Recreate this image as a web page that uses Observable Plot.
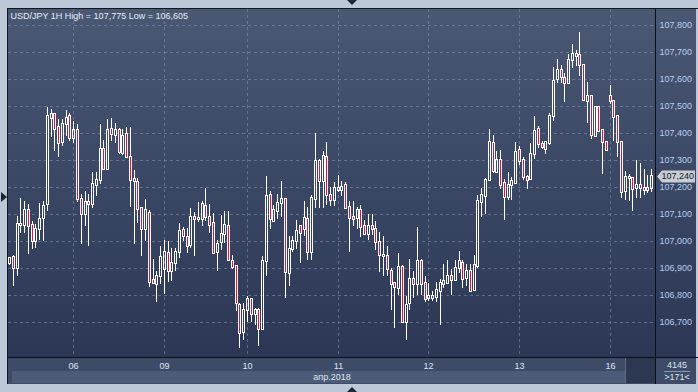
<!DOCTYPE html>
<html>
<head>
<meta charset="utf-8">
<script src="https://cdn.jsdelivr.net/npm/d3@7"></script>
<script src="https://cdn.jsdelivr.net/npm/@observablehq/plot@0.6"></script>
<style>
  html, body { margin: 0; padding: 0; background: #bcc7d7; }
  #wrap { position: relative; width: 698px; height: 392px; overflow: hidden; background: #bcc7d7; font-family: "Liberation Sans", Arial, sans-serif; }
  .abs { position: absolute; }
  #wrap svg { position: absolute; left: 0; top: 0; }
</style>
</head>
<body>
<div id="wrap">
  <div class="abs" style="left:8px;top:9px;width:647px;height:348px;background:linear-gradient(#4a5874,#2b3755);"></div>
  <div class="abs" style="left:656px;top:9px;width:40px;height:348px;background:linear-gradient(#4a5874,#2b3755);"></div>
  <div class="abs" style="left:8px;top:358px;width:647px;height:26px;background:#3e4b67;"></div>
  <div class="abs" style="left:12px;top:371px;width:613px;height:12px;background:#4c5b78;"></div>
  <div class="abs" style="left:625px;top:358px;width:1px;height:25px;background:#5d6b86;"></div>
  <div class="abs" style="left:626px;top:358px;width:29px;height:25px;background:#2c3751;"></div>
  <div class="abs" style="left:656px;top:358px;width:40px;height:26px;background:#3e4b67;"></div>
  <div class="abs" style="left:664px;top:371px;width:26px;height:1px;background:#8a98b0;"></div>
  <div class="abs" style="left:7px;top:8px;width:691px;height:1px;background:#10151e;"></div>
  <div class="abs" style="left:7px;top:8px;width:1px;height:376px;background:#10151e;"></div>
  <div class="abs" style="left:8px;top:357px;width:690px;height:1px;background:#0b0f16;"></div>
  <div class="abs" style="left:655px;top:9px;width:1px;height:375px;background:#0b0f16;"></div>
  <div class="abs" style="left:347px;top:0px;width:0;height:0;border-left:5px solid transparent;border-right:5px solid transparent;border-top:5px solid #1c2532;"></div>
  <div class="abs" style="left:347px;top:387px;width:0;height:0;border-left:5px solid transparent;border-right:5px solid transparent;border-bottom:5px solid #1c2532;"></div>
  <div class="abs" style="left:1px;top:192px;width:0;height:0;border-top:5px solid transparent;border-bottom:5px solid transparent;border-left:6px solid #1c2532;"></div>
</div>
<script>
// Hourly OHLC, USD/JPY, 171 bars
const open = [106.918,106.942,106.901,107.058,107.058,107.115,107.058,107.000,107.043,107.086,
107.138,107.457,107.472,107.422,107.368,107.435,107.463,107.383,107.410,107.157,
107.101,107.146,107.138,107.207,107.225,107.342,107.268,107.414,107.393,107.410,
107.327,107.395,107.312,107.228,107.217,107.123,107.043,107.105,106.856,106.842,
106.870,106.898,106.957,106.889,106.919,106.959,107.042,107.015,106.986,107.088,
107.081,107.081,107.131,107.089,107.067,106.958,106.995,107.027,107.054,106.927,
106.906,106.762,106.662,106.746,106.785,106.730,106.744,106.674,106.927,107.172,
107.075,107.112,107.141,107.157,106.881,106.972,107.001,107.054,107.044,107.081,
106.958,107.156,107.295,107.221,107.311,107.172,107.151,107.188,107.188,107.209,
107.125,107.089,107.085,107.116,107.054,107.027,107.054,107.046,106.995,106.944,
106.943,106.888,106.844,106.826,106.904,106.700,106.770,106.859,106.842,106.925,
106.844,106.789,106.789,106.793,106.814,106.840,106.844,106.872,106.857,106.900,
106.918,106.863,106.890,106.817,106.909,107.143,107.165,107.227,107.363,107.254,
107.299,107.213,107.164,107.207,107.213,107.336,107.299,107.237,107.228,107.323,
107.413,107.360,107.342,107.364,107.462,107.599,107.633,107.603,107.585,107.669,
107.687,107.688,107.651,107.520,107.536,107.388,107.495,107.412,107.366,107.538,
107.518,107.462,107.366,107.185,107.235,107.234,107.197,107.209,107.198,107.188,
107.198];
const high = [106.940,106.947,107.093,107.158,107.148,107.136,107.074,107.062,107.142,107.148,
107.498,107.488,107.475,107.451,107.451,107.484,107.475,107.444,107.435,107.173,
107.185,107.173,107.257,107.257,107.435,107.373,107.451,107.454,107.438,107.420,
107.414,107.422,107.423,107.262,107.235,107.126,107.154,107.114,106.932,106.889,
106.981,107.002,107.000,106.975,106.974,107.067,107.051,107.048,107.122,107.109,
107.143,107.147,107.196,107.138,107.104,107.005,107.098,107.110,107.110,106.949,
106.912,106.770,106.770,106.795,106.789,106.752,106.752,106.943,107.240,107.184,
107.135,107.175,107.221,107.159,107.017,107.020,107.077,107.060,107.147,107.126,
107.172,107.400,107.304,107.332,107.365,107.200,107.217,107.246,107.223,107.217,
107.147,107.147,107.126,107.135,107.077,107.100,107.100,107.075,107.032,107.020,
106.980,106.900,106.848,106.956,106.912,106.795,106.933,106.888,107.052,106.933,
106.869,106.844,106.813,106.847,106.859,106.916,106.928,106.896,106.931,106.962,
106.931,106.916,106.916,106.949,107.172,107.196,107.233,107.415,107.394,107.332,
107.336,107.231,107.256,107.237,107.366,107.352,107.311,107.246,107.364,107.464,
107.425,107.372,107.372,107.474,107.646,107.673,107.651,107.621,107.691,107.728,
107.707,107.775,107.652,107.590,107.538,107.501,107.501,107.415,107.372,107.577,
107.523,107.467,107.372,107.258,107.250,107.237,107.299,107.290,107.268,107.243,
107.266];
const low = [106.912,106.833,106.870,107.031,107.031,106.951,106.969,106.975,107.004,107.000,
107.111,107.385,107.333,107.311,107.352,107.389,107.370,107.364,107.146,106.990,
107.056,106.981,107.123,107.167,107.210,107.265,107.265,107.370,107.364,107.323,
107.318,107.311,107.127,106.988,107.068,106.944,107.000,106.830,106.840,106.774,
106.840,106.802,106.850,106.852,106.890,106.937,107.001,106.956,106.974,106.943,
107.069,107.054,107.073,107.030,106.955,106.888,106.965,106.993,106.927,106.896,
106.739,106.605,106.632,106.699,106.699,106.690,106.610,106.672,106.869,107.044,
107.069,107.081,107.089,106.789,106.832,106.958,106.970,106.919,107.017,106.928,
106.930,107.122,107.122,107.122,107.135,107.128,107.128,107.180,107.165,107.119,
106.958,107.057,107.044,107.015,107.023,107.005,107.023,106.968,106.884,106.869,
106.869,106.743,106.678,106.801,106.699,106.635,106.746,106.789,106.801,106.801,
106.773,106.777,106.777,106.773,106.690,106.826,106.844,106.801,106.855,106.881,
106.826,106.835,106.810,106.815,106.900,107.088,107.100,107.221,107.252,107.252,
107.194,107.078,107.152,107.152,107.212,107.280,107.225,107.194,107.226,107.305,
107.344,107.342,107.323,107.356,107.446,107.585,107.587,107.516,107.584,107.642,
107.648,107.612,107.520,107.436,107.379,107.385,107.405,107.250,107.332,107.506,
107.372,107.311,107.158,107.152,107.148,107.112,107.158,107.160,107.170,107.176,
107.182];
const close = [106.937,106.901,107.062,107.062,107.115,107.056,107.000,107.043,107.083,107.130,
107.463,107.472,107.416,107.364,107.435,107.457,107.383,107.410,107.157,107.099,
107.146,107.138,107.212,107.225,107.342,107.268,107.410,107.398,107.410,107.331,
107.389,107.312,107.226,107.222,107.117,107.043,107.114,106.848,106.846,106.870,
106.941,106.960,106.889,106.920,106.959,107.038,107.020,106.983,107.088,107.081,
107.084,107.138,107.089,107.060,106.956,106.989,107.027,107.060,106.931,106.904,
106.770,106.659,106.746,106.786,106.730,106.744,106.674,106.927,107.168,107.081,
107.114,107.141,107.156,106.884,106.972,107.001,107.038,107.030,107.085,106.958,
107.159,107.295,107.221,107.314,107.172,107.151,107.196,107.196,107.200,107.122,
107.085,107.081,107.116,107.052,107.027,107.054,107.044,106.995,106.949,106.949,
106.896,106.841,106.828,106.904,106.700,106.764,106.859,106.842,106.925,106.842,
106.785,106.795,106.795,106.820,106.844,106.851,106.872,106.857,106.900,106.927,
106.859,106.890,106.814,106.912,107.147,107.172,107.227,107.367,107.258,107.301,
107.209,107.164,107.209,107.221,107.329,107.295,107.237,107.225,107.323,107.409,
107.360,107.348,107.366,107.462,107.593,107.634,107.606,107.587,107.671,107.691,
107.691,107.651,107.523,107.536,107.393,107.495,107.409,107.366,107.336,107.518,
107.458,107.366,107.182,107.237,107.237,107.194,107.209,107.198,107.188,107.197,
107.240];

// Axis ticks and labels
const priceTicks = [106.7, 106.8, 106.9, 107.0, 107.1, 107.2, 107.3, 107.4, 107.5, 107.6, 107.7, 107.8];
const dayTicks = [17, 41, 63, 87, 111, 135, 159];
const dayLabels = ["06", "09", "10", "11", "12", "13", "16"];
const monthLabel = ["апр.2018"];
const symbolName = "USD/JPY";
const timeframe = "1H";
const counterLabels = ["4145", ">171<"];

const fmt = v => d3.format(".3f")(v).replace(".", ",");
const bars = open.map((o, i) => ({i, o, h: high[i], l: low[i], c: close[i]}));
const hi = d3.max(high), lo = d3.min(low);
const last = bars[bars.length - 1];
const titleText = `${symbolName} ${timeframe} High = ${fmt(hi)} Low = ${fmt(lo)}`;

const tagSymbol = {
  draw(ctx) {
    ctx.moveTo(1.5, 0);
    ctx.lineTo(6.5, -6);
    ctx.lineTo(39.5, -6);
    ctx.lineTo(39.5, 6);
    ctx.lineTo(6.5, 6);
    ctx.closePath();
  }
};

const gridStyle = {stroke: "#8593ae", strokeOpacity: 0.55, strokeDasharray: "3,3", strokeWidth: 1};
const txt = {lineAnchor: "middle", fill: "#dde6f2"};

const chart = Plot.plot({
  width: 698,
  height: 392,
  marginLeft: 8,
  marginRight: 43,
  marginTop: 9,
  marginBottom: 35,
  x: {type: "linear", domain: [-0.265, 170.99], round: true, axis: null},
  y: {domain: [106.5704, 107.8593], round: true, axis: null},
  style: {background: "transparent", fontFamily: "'Liberation Sans', Arial, sans-serif", fontSize: "9px", overflow: "visible"},
  marks: [
    Plot.ruleY(priceTicks, {y: d => d, ...gridStyle}),
    Plot.ruleX(dayTicks, {x: d => d, ...gridStyle}),
    Plot.ruleX(bars, {x: "i", y1: "h", y2: d => Math.max(d.o, d.c), insetBottom: 0.5, stroke: "white", strokeWidth: 1}),
    Plot.ruleX(bars, {x: "i", y1: d => Math.min(d.o, d.c), y2: "l", insetTop: 0.5, stroke: "white", strokeWidth: 1}),
    Plot.rect(bars, {
      x1: "i", x2: "i", y1: "o", y2: "c",
      insetLeft: -0.5, insetRight: -1.5, insetTop: -0.5, insetBottom: -0.5,
      fill: d => d.c >= d.o ? "none" : "#dc143c",
      stroke: "white", strokeWidth: 1
    }),
    Plot.text(priceTicks, {y: d => d, text: d => fmt(d), frameAnchor: "right", dx: 4, textAnchor: "start", lineAnchor: "middle", fill: "#b6cff0"}),
    Plot.text(dayTicks, {x: d => d, text: (d, k) => dayLabels[k], frameAnchor: "bottom", dy: 8.5, textAnchor: "middle", ...txt}),
    Plot.text(monthLabel, {frameAnchor: "bottom", dy: 19.5, textAnchor: "middle", ...txt}),
    Plot.text([counterLabels[0]], {frameAnchor: "bottom-right", dx: 21.5, dy: 7.5, textAnchor: "middle", ...txt}),
    Plot.text([counterLabels[1]], {frameAnchor: "bottom-right", dx: 21.5, dy: 20, textAnchor: "middle", ...txt}),
    Plot.dot([last], {y: "c", frameAnchor: "right", symbol: tagSymbol, r: 3, fill: "#c9cdd3", stroke: "none"}),
    Plot.text([last], {y: "c", text: d => fmt(d.c), frameAnchor: "right", dx: 6, textAnchor: "start", lineAnchor: "middle", fill: "#101828"}),
    Plot.text([titleText], {frameAnchor: "top-left", dx: 2, dy: 6.5, textAnchor: "start", lineAnchor: "middle", fill: "#e8eef7"})
  ]
});
document.getElementById("wrap").appendChild(chart);
</script>
</body>
</html>
